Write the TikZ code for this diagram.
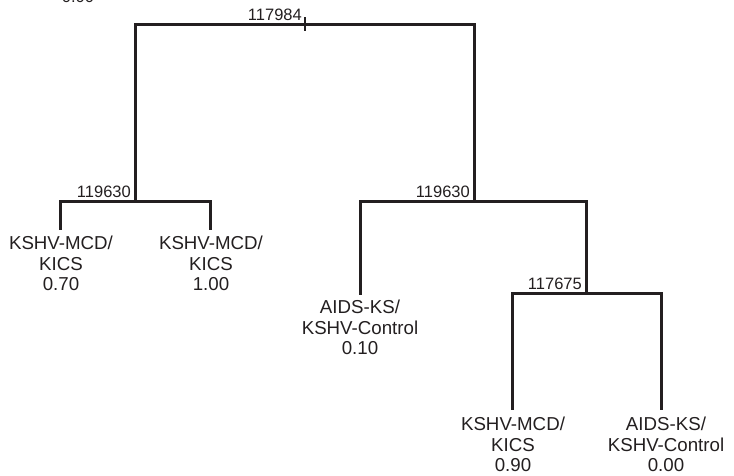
\documentclass[tikz,border=0pt]{standalone}
\usepackage{fontspec}
\setmainfont{Liberation Sans}
\definecolor{ink}{RGB}{35,31,32}
\tikzset{
  branch/.style={draw=ink, line width=3pt, line cap=rect},
  ticktick/.style={draw=ink, line width=2pt},
  numlab/.style={anchor=base east, inner sep=0pt, text=ink, font=\fontsize{16.5}{18}\selectfont},
  leaflab/.style={anchor=north, inner sep=0pt, align=center, text=ink, font=\fontsize{18.7}{20.6}\selectfont}
}
\begin{document}
\begin{tikzpicture}[x=1pt,y=-1pt]
\useasboundingbox (0,0) rectangle (734,475);
\clip (0,0) rectangle (734,475);
% cut-off scale text at the top edge
\node[inner sep=0pt, anchor=base, text=ink, font=\fontsize{16.5}{18}\selectfont] (scale) at (78,2) {0.00};

% internal junctions
\coordinate (root) at (305,24);
\coordinate (rootL) at (135,24);
\coordinate (rootR) at (474,24);
\coordinate (n1) at (135,201);
\coordinate (n1L) at (60,201);
\coordinate (n1R) at (210,201);
\coordinate (n2) at (474,201);
\coordinate (n2L) at (360,201);
\coordinate (n2R) at (586,201);
\coordinate (n3) at (586,293);
\coordinate (n3L) at (512,293);
\coordinate (n3R) at (661,293);
% leaf ends
\coordinate (l1) at (60,228);
\coordinate (l2) at (210,228);
\coordinate (l3) at (360,293);
\coordinate (l4) at (512,408);
\coordinate (l5) at (661,408);
\coordinate (tickT) at (305,17);
\coordinate (tickB) at (305,31);

% branches
\draw[branch] (n1) -- (rootL) -- (rootR) -- (n2);
\draw[ticktick] (tickT) -- (tickB);
\draw[branch] (l1) -- (n1L) -- (n1R) -- (l2);
\draw[branch] (l3) -- (n2L) -- (n2R) -- (n3);
\draw[branch] (l4) -- (n3L) -- (n3R) -- (l5);

% node labels
\node[numlab] (t0) at (302,20.5) {117984};
\node[numlab] (t1) at (131,197) {119630};
\node[numlab] (t2) at (470,197) {119630};
\node[numlab] (t3) at (582,289) {117675};

% leaf labels
\node[leaflab] (a1) at (61,236) {KSHV-MCD/\\KICS\\0.70};
\node[leaflab] (a2) at (211,236) {KSHV-MCD/\\KICS\\1.00};
\node[leaflab] (a3) at (360,300) {AIDS-KS/\\KSHV-Control\\0.10};
\node[leaflab] (a4) at (513,417) {KSHV-MCD/\\KICS\\0.90};
\node[leaflab] (a5) at (666,417) {AIDS-KS/\\KSHV-Control\\0.00};
\end{tikzpicture}
\end{document}
